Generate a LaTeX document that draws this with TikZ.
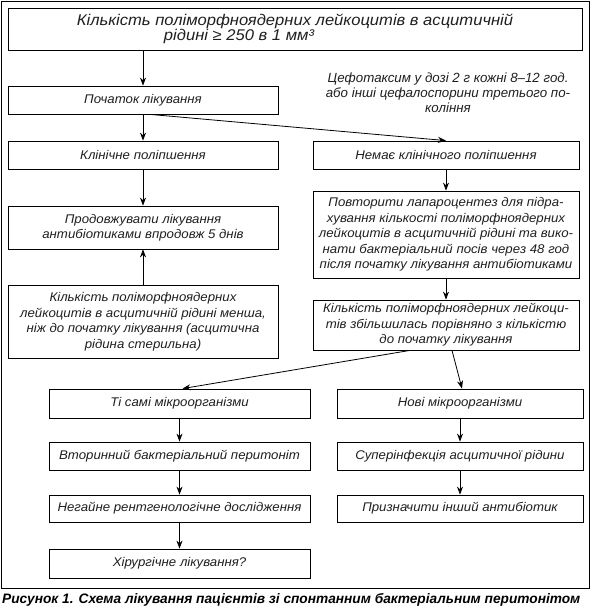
\documentclass[tikz,border=0pt]{standalone}
\usepackage{fontspec}
\setmainfont{Liberation Sans}
\newfontfamily\boxfont[FakeStretch=1.05]{Liberation Sans}
\newfontfamily\topfont[FakeStretch=1.07]{Liberation Sans}
\usetikzlibrary{arrows.meta}
\begin{document}
\begin{tikzpicture}[x=1pt,y=-1pt,
  box/.style={draw=black, line width=0.8pt, inner sep=0pt, align=center,
    font=\boxfont\fontsize{12.6}{15.5}\selectfont\itshape, text=black!88},
  arr/.style={draw=black, line width=0.8pt, -{Stealth[length=8pt,width=6pt]}},
  frame/.style={draw=black, line width=0.9pt}]
\useasboundingbox (0,0) rectangle (591,610);
\draw[frame] (1,1) rectangle (589,588);
% left column top
\node[box, minimum width=574pt, minimum height=42pt, font=\topfont\fontsize{15.5}{15}\selectfont\itshape] (b1) at (295,29)
  {Кількість поліморфноядерних лейкоцитів в асцитичній\\рідині ≥ 250 в 1 мм³\hspace*{112pt}};
\node[box, minimum width=270pt, minimum height=28pt] (b2) at (143,100) {Початок лікування};
\node[box, minimum width=270pt, minimum height=28pt] (b3) at (143,155) {Клінічне поліпшення};
\node[box, minimum width=270pt, minimum height=43pt] (b4) at (143,227.5)
  {Продовжувати лікування\\антибіотиками впродовж 5 днів};
\node[box, minimum width=270pt, minimum height=73pt] (b5) at (143,321.5)
  {Кількість поліморфноядерних\\лейкоцитів в асцитичній рідині менша,\\ніж до початку лікування (асцитична\\рідина стерильна)};
% right column top
\node[box, draw=none, font=\fontsize{13.3}{15}\selectfont\itshape] (note) at (448,93)
  {Цефотаксим у дозі 2 г кожні 8–12 год.\\або інші цефалоспорини третього по-\\коління};
\node[box, minimum width=266pt, minimum height=28pt] (b6) at (446,155) {Немає клінічного поліпшення};
\node[box, minimum width=266pt, minimum height=87pt] (b7) at (446,234.5)
  {Повторити лапароцентез для підра-\\хування кількості поліморфноядерних\\лейкоцитів в асцитичній рідині та вико-\\нати бактеріальний посів через 48 год\\після початку лікування антибіотиками};
\node[box, minimum width=266pt, minimum height=50pt] (b8) at (446,325)
  {Кількість поліморфноядерних лейкоци-\\тів збільшилась порівняно з кількістю\\до початку лікування};
% bottom left
\node[box, minimum width=261pt, minimum height=29pt] (l1) at (179.5,403.5) {Ті самі мікроорганізми};
\node[box, minimum width=261pt, minimum height=28pt] (l2) at (179.5,456) {Вторинний бактеріальний перитоніт};
\node[box, minimum width=261pt, minimum height=27pt] (l3) at (179.5,508.5) {Негайне рентгенологічне дослідження};
\node[box, minimum width=261pt, minimum height=29pt] (l4) at (179.5,563.5) {Хірургічне лікування?};
% bottom right
\node[box, minimum width=246pt, minimum height=29pt] (r1) at (460,403.5) {Нові мікроорганізми};
\node[box, minimum width=246pt, minimum height=28pt] (r2) at (460,456) {Суперінфекція асцитичної рідини};
\node[box, minimum width=246pt, minimum height=27pt] (r3) at (460,508.5) {Призначити інший антибіотик};
% caption
\node[anchor=west, inner sep=0pt, font=\fontsize{13.7}{16}\selectfont\bfseries\itshape] (cap) at (2,600)
  {Рисунок 1. Схема лікування пацієнтів зі спонтанним бактеріальним перитонітом};
% connectors
\draw[arr] (b2.north |- b1.south) -- (b2.north);
\draw[arr] ([xshift=7pt]b2.south) -- (b6.north);
\draw[arr] (b2.south) -- (b3.north);
\draw[arr] (b3.south) -- (b4.north);
\draw[arr] (b5.north) -- (b4.south);
\draw[arr] (b6.south) -- (b7.north);
\draw[arr] (b7.south) -- (b8.north);
\draw[arr] ([xshift=-36pt]b8.south) -- ([xshift=3pt]l1.north);
\draw[arr] ([xshift=6pt]b8.south) -- ([xshift=2pt]r1.north);
\draw[arr] (l1.south) -- (l2.north);
\draw[arr] (l2.south) -- (l3.north);
\draw[arr] (l3.south) -- (l4.north);
\draw[arr] (r1.south) -- (r2.north);
\draw[arr] (r2.south) -- (r3.north);
\end{tikzpicture}
\end{document}
